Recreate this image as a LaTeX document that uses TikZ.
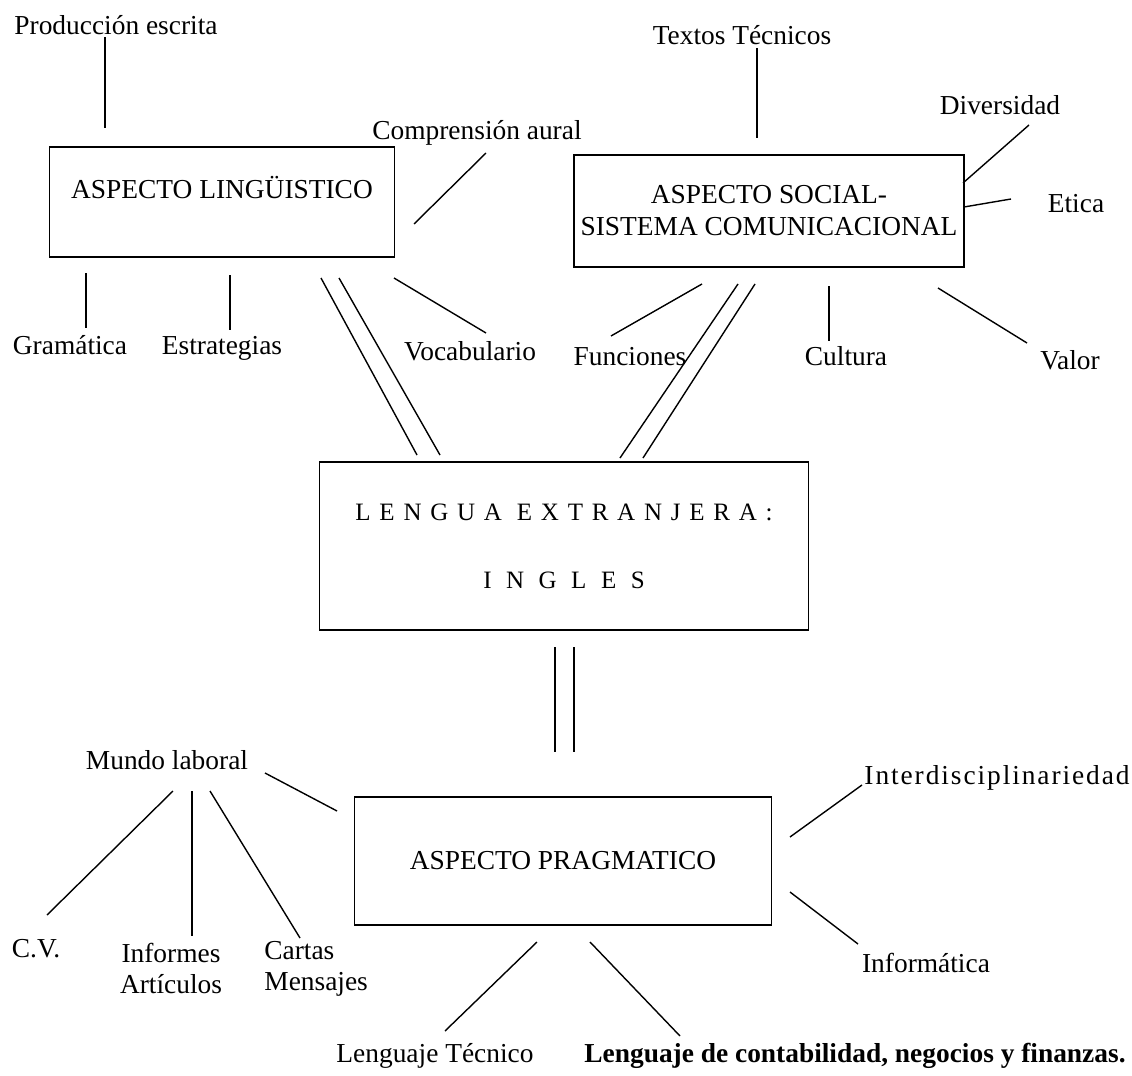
\documentclass[tikz,border=0pt]{standalone}
\usepackage{fontspec}
\setmainfont{Liberation Serif}
\newfontfamily\spacedfont[LetterSpace=35]{Liberation Serif}
\newfontfamily\widerfont[LetterSpace=58]{Liberation Serif}
\usetikzlibrary{positioning}

\begin{document}
\begin{tikzpicture}[
    x=0.5pt, y=-0.5pt,
    box/.style={rectangle, draw, line width=0.9pt, font=\fontsize{13.7}{16}\selectfont, align=center},
    lbl/.style={font=\fontsize{13.7}{15.5}\selectfont, inner sep=1pt, text height=10pt, text depth=3pt},
    pair/.style={font=\fontsize{13.7}{15.5}\selectfont, inner sep=1pt},
    link/.style={line width=0.7pt}
]
\useasboundingbox (0,0) rectangle (1132,1076);

% the four aspects
\node[box, minimum width=172.5pt, minimum height=55pt, text height=9.5pt, text depth=13pt] (ling) at (222,202) {ASPECTO LINGÜISTICO};
\node[box, minimum width=193.5pt, minimum height=56pt] (soc) at (769,211) {ASPECTO SOCIAL-\\SISTEMA COMUNICACIONAL};
\node[box, minimum width=244.5pt, minimum height=84pt, font=\fontsize{12.5}{34}\selectfont] (leng) at (564,546) {{\spacedfont LENGUA EXTRANJERA:}\\{\widerfont INGLES}};
\node[box, minimum width=208.5pt, minimum height=64pt] (prag) at (563,861) {ASPECTO PRAGMATICO};

% labels round the linguistic aspect
\node[lbl] (prod) at (116,27) {Producción escrita};
\node[lbl] (comp) at (477,133) {Comprensión aural};
\node[lbl] (gram) at (70,347) {Gramática};
\node[lbl] (estr) at (222,347) {Estrategias};
\node[lbl] (voc) at (470,353) {Vocabulario};

% labels round the social aspect
\node[lbl] (textos) at (742,37) {Textos Técnicos};
\node[lbl] (divers) at (1000,107) {Diversidad};
\node[lbl] (etica) at (1076,205) {Etica};
\node[lbl] (func) at (630,358) {Funciones};
\node[lbl] (cult) at (846,358) {Cultura};
\node[lbl] (valor) at (1070,362) {Valor};

% labels round the pragmatic aspect
\node[lbl] (mundo) at (167,762) {Mundo laboral};
\node[lbl] (cv) at (36,950) {C.V.};
\node[pair, align=center] (inf) at (171,968) {Informes\\Artículos};
\node[pair, align=left, anchor=west] (cartas) at (262,969) {Cartas\\Mensajes};
\node[lbl] (ltec) at (435,1055) {Lenguaje Técnico};
\node[lbl, font=\fontsize{13.7}{15.5}\selectfont\bfseries] (lcont) at (855,1055) {Lenguaje de contabilidad, negocios y finanzas.};
\node[lbl] (inter) at (997,777) {\addfontfeature{LetterSpace=7}Interdisciplinariedad};
\node[lbl] (infor) at (926,965) {Informática};

% line ends
\coordinate (prod-a) at (105,37);  \coordinate (prod-b) at (105,128);
\coordinate (comp-a) at (414,224); \coordinate (comp-b) at (486,153);
\coordinate (gram-a) at (86,273);  \coordinate (gram-b) at (86,328);
\coordinate (estr-a) at (230,275); \coordinate (estr-b) at (230,330);
\coordinate (voc-a) at (394,278);  \coordinate (voc-b) at (486,333);
\coordinate (ll-a) at (321,278);   \coordinate (ll-b) at (417,455);
\coordinate (lr-a) at (339,278);   \coordinate (lr-b) at (440,455);

\coordinate (textos-a) at (757,48);  \coordinate (textos-b) at (757,138);
\coordinate (divers-a) at (963,183); \coordinate (divers-b) at (1029,125);
\coordinate (etica-a) at (964,207);  \coordinate (etica-b) at (1011,199);
\coordinate (func-a) at (702,284);   \coordinate (func-b) at (611,336);
\coordinate (sl-a) at (738,284);     \coordinate (sl-b) at (620,458);
\coordinate (sr-a) at (755,284);     \coordinate (sr-b) at (643,458);
\coordinate (cult-a) at (829,286);   \coordinate (cult-b) at (829,341);
\coordinate (valor-a) at (938,288);  \coordinate (valor-b) at (1027,343);

\coordinate (pl-a) at (555,647);     \coordinate (pl-b) at (555,752);
\coordinate (pr-a) at (574,647);     \coordinate (pr-b) at (574,752);
\coordinate (mundo-a) at (265,773);  \coordinate (mundo-b) at (337,811);
\coordinate (cv-a) at (173,791);     \coordinate (cv-b) at (47,915);
\coordinate (inf-a) at (192,791);    \coordinate (inf-b) at (192,936);
\coordinate (cartas-a) at (210,791); \coordinate (cartas-b) at (300,938);
\coordinate (ltec-a) at (537,942);   \coordinate (ltec-b) at (445,1031);
\coordinate (lcont-a) at (590,942);  \coordinate (lcont-b) at (680,1036);
\coordinate (inter-a) at (790,837);  \coordinate (inter-b) at (862,785);
\coordinate (infor-a) at (790,892);  \coordinate (infor-b) at (858,944);

% lines
\draw[link] (prod-a) -- (prod-b);
\draw[link] (comp-a) -- (comp-b);
\draw[link] (gram-a) -- (gram-b);
\draw[link] (estr-a) -- (estr-b);
\draw[link] (voc-a) -- (voc-b);
\draw[link] (ll-a) -- (ll-b);
\draw[link] (lr-a) -- (lr-b);

\draw[link] (textos-a) -- (textos-b);
\draw[link] (divers-a) -- (divers-b);
\draw[link] (etica-a) -- (etica-b);
\draw[link] (func-a) -- (func-b);
\draw[link] (sl-a) -- (sl-b);
\draw[link] (sr-a) -- (sr-b);
\draw[link] (cult-a) -- (cult-b);
\draw[link] (valor-a) -- (valor-b);

\draw[link] (pl-a) -- (pl-b);
\draw[link] (pr-a) -- (pr-b);
\draw[link] (mundo-a) -- (mundo-b);
\draw[link] (cv-a) -- (cv-b);
\draw[link] (inf-a) -- (inf-b);
\draw[link] (cartas-a) -- (cartas-b);
\draw[link] (ltec-a) -- (ltec-b);
\draw[link] (lcont-a) -- (lcont-b);
\draw[link] (inter-a) -- (inter-b);
\draw[link] (infor-a) -- (infor-b);
\end{tikzpicture}
\end{document}
